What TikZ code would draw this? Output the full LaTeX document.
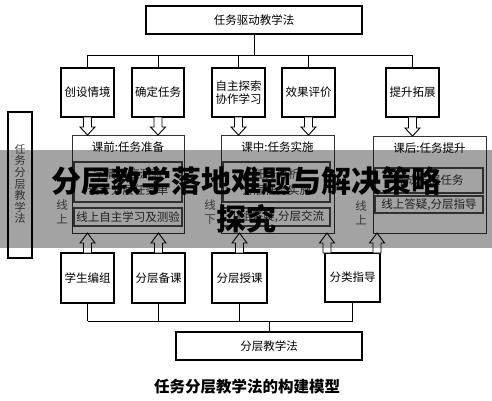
\documentclass[tikz,border=0pt]{standalone}
\usepackage{fontspec}
\newfontfamily\cjk{Noto Sans CJK SC}
\usetikzlibrary{calc}
\newcommand\bxfont{\cjk\fontsize{11.5}{13.5}\selectfont}
\tikzset{
  box/.style={draw=black, line width=1.3pt, fill=white, inner sep=0pt, outer sep=0pt, align=center, font=\bxfont},
  phase/.style={draw=black!80, line width=1pt, inner sep=0pt, outer sep=0pt},
  innerbox/.style={draw=black!70, line width=1.6pt, inner sep=0pt, outer sep=0pt, align=center, font=\bxfont, text=black!80},
  ttl/.style={font=\bxfont, inner sep=0pt},
  lbl/.style={font=\bxfont, text=black!65, align=center, inner sep=0pt},
  conn/.style={draw=black, line width=0.9pt},
  harrow/.style={draw=black, line width=0.9pt, fill=white, line join=miter},
  headline/.style={font=\cjk\bfseries\fontsize{30}{35}\selectfont, inner sep=0pt},
}
\newcommand\arrdown[2]{\path[harrow] let \p1=(#1), \p2=(#2) in
  (\x1-4pt,\y1) -- (\x1-4pt,\y2+8pt) -- (\x1-7.5pt,\y2+8pt) -- (\x1,\y2) --
  (\x1+7.5pt,\y2+8pt) -- (\x1+4pt,\y2+8pt) -- (\x1+4pt,\y1) -- cycle;}
\newcommand\arrup[2]{\path[harrow] let \p1=(#1), \p2=(#2) in
  (\x1-4pt,\y1) -- (\x1-4pt,\y2-10pt) -- (\x1-7.5pt,\y2-10pt) -- (\x1,\y2) --
  (\x1+7.5pt,\y2-10pt) -- (\x1+4pt,\y2-10pt) -- (\x1+4pt,\y1) -- cycle;}
\begin{document}
\begin{tikzpicture}[x=1pt,y=-1pt]
\useasboundingbox (0,0) rectangle (492,400);
\fill[white] (0,0) rectangle (492,400);

% top
\node[box, line width=1.1pt, minimum width=216, minimum height=28] (drive) at (254,20) {任务驱动教学法};
\node[box, minimum width=53, minimum height=49] (b1) at (87.5,92.5) {创设情境};
\node[box, minimum width=52, minimum height=49] (b2) at (158,92.5) {确定任务};
\node[box, minimum width=53, minimum height=49] (b3) at (238.5,92.5) {自主探索\\协作学习};
\node[box, minimum width=53, minimum height=49] (b4) at (308.5,92.5) {效果评价};
\node[box, minimum width=53, minimum height=49] (b5) at (412.5,92.5) {提升拓展};
\coordinate (tj) at (254,55);
\draw[conn] (drive.south) -- (tj);
\draw[conn] (tj -| b1.north) -- (tj -| b5.north);
\foreach \b in {b1,b2,b3,b4,b5} \draw[conn] (tj -| \b.north) -- (\b.north);

% phase boxes
\node[phase, minimum width=112, minimum height=98] (p1) at (128,184) {};
\node[phase, minimum width=113, minimum height=98] (p2) at (277.5,184) {};
\node[phase, minimum width=113, minimum height=97] (p3) at (429.5,184.5) {};
\node[ttl] (t1) at (128,147) {课前:任务准备};
\node[ttl] (t2) at (277.5,147) {课中:任务实施};
\node[ttl] (t3) at (429.5,148) {课后:任务提升};
\node[innerbox, minimum width=108, minimum height=40] (i11) at (128,182) {学情摸底测验\\[3pt]设计分层任务单};
\node[innerbox, minimum width=108, minimum height=18] (i12) at (128,217) {线上自主学习及测验};
\node[innerbox, minimum width=107, minimum height=40] (i21) at (276.5,182) {任务分析\\[3pt]分层任务实施};
\node[innerbox, minimum width=107, minimum height=18] (i22) at (276.5,217) {小组答疑,分层交流};
\node[innerbox, minimum width=108, minimum height=25] (i31) at (429,180.5) {完成拓展任务};
\node[innerbox, minimum width=108, minimum height=17] (i32) at (429,204.5) {线上答疑,分层指导};
\node[lbl] (l1) at (62,212) {线\\上};
\node[lbl] (l2) at (210,212) {线\\下};
\node[lbl] (l3) at (361,213) {线\\上};

% left vertical box
\node[draw=black, line width=1.2pt, minimum width=24, minimum height=146, inner sep=0pt] (side) at (20,185) {};
\node[font=\cjk\fontsize{11}{11.6}\selectfont, text=black!70, align=center, inner sep=0pt] (sidet) at (20,184) {任\\务\\分\\层\\教\\学\\法};

% bottom boxes
\node[box, minimum width=53, minimum height=50] (c1) at (87.5,278) {学生编组};
\node[box, minimum width=53, minimum height=50] (c2) at (158.5,278) {分层备课};
\node[box, minimum width=55, minimum height=50] (c3) at (239.5,278) {分层授课};
\node[box, minimum width=55, minimum height=49] (c4) at (352.5,277.5) {分类指导};
\node[box, line width=1.1pt, minimum width=186, minimum height=28] (base) at (269,346) {分层教学法};
\coordinate (bj) at (269,321);
\draw[conn] (c1.south |- bj) -- (c4.south |- bj);
\foreach \c in {c1,c2,c3,c4} \draw[conn] (\c.south) -- (\c.south |- bj);
\draw[conn] (bj) -- (base.north);

% hollow arrows
\arrdown{b1.south}{b1.south |- p1.north}
\arrdown{b2.south}{b2.south |- p1.north}
\arrdown{b3.south}{b3.south |- p2.north}
\arrdown{b4.south}{b4.south |- p2.north}
\arrdown{b5.south}{b5.south |- p3.north}
\arrup{c1.north}{c1.north |- p1.south}
\arrup{c2.north}{c2.north |- p1.south}
\arrup{c3.north}{c3.north |- p2.south}
\coordinate (c4a) at ($(c4.north west)+(2,0)$);
\coordinate (c4b) at ($(c4.north east)+(-3,0)$);
\arrup{c4a}{c4a |- p2.south}
\arrup{c4b}{c4b |- p3.south}

% caption
\node[font=\cjk\bfseries\fontsize{15.5}{18}\selectfont, inner sep=0pt] (cap) at (247,387) {任务分层教学法的构建模型};

% banner overlay
\fill[black, opacity=0.36] (0,150) rectangle (492,248);
\node[headline] (head1) at (246.5,181) {分层教学落地难题与解决策略};
\node[headline] (head2) at (246,219) {探究};
\end{tikzpicture}
\end{document}
